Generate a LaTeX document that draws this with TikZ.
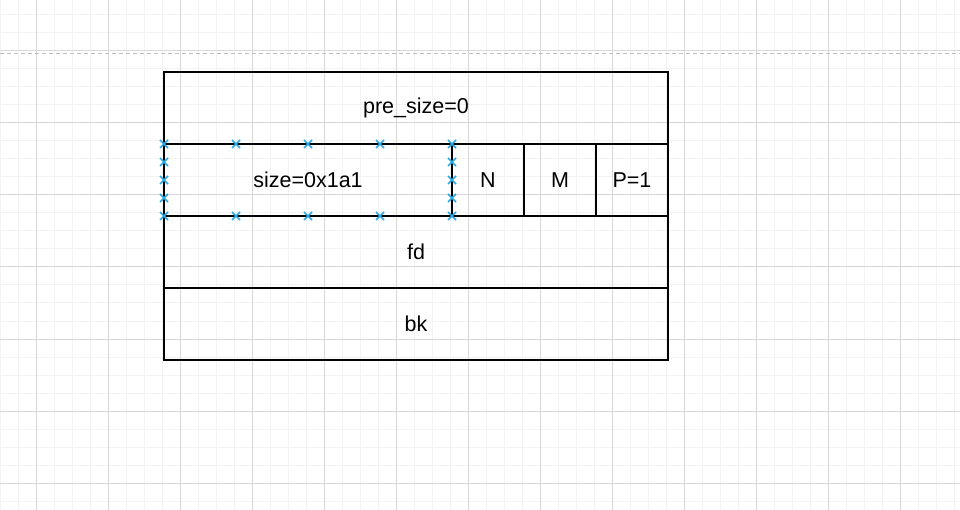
\documentclass[tikz,border=0pt]{standalone}
\usepackage{fontspec}
\setmainfont{Liberation Sans}
\usetikzlibrary{positioning}

\definecolor{minorgray}{RGB}{243,243,243}
\definecolor{majorgray}{RGB}{216,216,216}
\definecolor{pagegray}{RGB}{192,192,192}
\definecolor{selblue}{RGB}{41,170,228}

\begin{document}
\begin{tikzpicture}[x=1pt, y=-1pt,
    cell/.style={draw=black, line width=1.5pt, inner sep=0pt,
        minimum width=#1, minimum height=72pt,
        font=\fontsize{21.5}{25}\selectfont},
    cell/.default=504pt,
    minorgrid/.style={minorgray, line width=1pt},
    majorgrid/.style={majorgray, line width=1pt},
    selx/.style={selblue, line width=1.6pt}]
    
    % Background and page size
    \useasboundingbox (0,0) rectangle (960,510);
    \fill[white] (0,0) rectangle (960,510);
    
    % Minor grid lines
    \foreach \k in {0,...,53}
        \draw[minorgrid] (0.3+18*\k,0) -- (0.3+18*\k,510);
    \foreach \k in {0,...,27}
        \draw[minorgrid] (0,15+18*\k) -- (960,15+18*\k);
    
    % Major grid lines
    \foreach \k in {0,...,12}
        \draw[majorgrid] (36.6+72*\k,0) -- (36.6+72*\k,510);
    \foreach \k in {0,...,6}
        \draw[majorgrid] (0,51+72*\k) -- (960,51+72*\k);
    
    % Page break line
    \draw[pagegray, line width=1pt, dash pattern=on 4pt off 3pt] (0,53.3) -- (960,53.3);
    
    % Rows of the chunk
    \node[cell] (presize) at (416,108) {pre\_size=0};
    \node[cell=288pt] (size) at (308,180) {size=0x1a1};
    \node[cell=72pt] (flagN) at (488,180) {N};
    \node[cell=72pt] (flagM) at (560,180) {M};
    \node[cell=72pt] (flagP) at (632,180) {P=1};
    \node[cell] (fd) at (416,252) {fd};
    \node[cell] (bk) at (416,324) {bk};
    
    % Selection handles on the size cell
    \foreach \x in {164,236,308,380,452}
        \foreach \y in {144,216}
            \draw[selx] (\x-4,\y-4) -- (\x+4,\y+4) (\x-4,\y+4) -- (\x+4,\y-4);
    \foreach \x in {164,452}
        \foreach \y in {162,180,198}
            \draw[selx] (\x-4,\y-4) -- (\x+4,\y+4) (\x-4,\y+4) -- (\x+4,\y-4);
\end{tikzpicture}
\end{document}
